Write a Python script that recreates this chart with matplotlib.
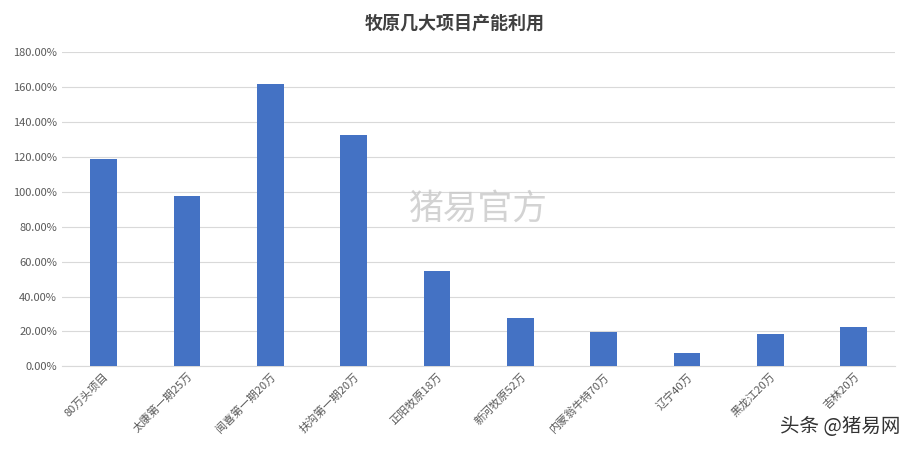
import matplotlib.pyplot as plt
from matplotlib.ticker import FuncFormatter

plt.rcParams['font.family'] = ['Noto Sans CJK SC', 'DejaVu Sans']

projects = ['80万头项目', '太康第一期25万', '闻喜第一期20万', '扶沟第一期20万', '正阳牧原18万',
            '新河牧原52万', '内蒙翁牛特70万', '辽宁40万', '黑龙江20万', '吉林20万']
utilization = [118.7, 97.5, 161.7, 132.4, 54.5, 27.5, 19.5, 7.5, 18.5, 22.5]

fig = plt.figure(figsize=(9.09, 4.54), dpi=100)
ax = fig.add_axes([0.068, 0.193, 0.917, 0.692])
x = range(len(projects))
ax.bar(x, utilization, width=0.32, color='#4472C4', zorder=3)
ax.set_xlim(-0.5, len(projects) - 0.5)
ax.set_ylim(0, 180)
ax.set_yticks(range(0, 181, 20))
ax.yaxis.set_major_formatter(FuncFormatter(lambda v, p: f'{v:.2f}%'))
ax.grid(axis='y', color='#D9D9D9', lw=0.8, zorder=0)
for s in ['top', 'right', 'left']:
    ax.spines[s].set_visible(False)
ax.spines['bottom'].set_color('#D9D9D9')
ax.tick_params(length=0, labelsize=8, colors='#595959')
ax.set_xticks(list(x))
ax.set_xticklabels(projects, rotation=45, ha='right', rotation_mode='anchor')

fig.text(0.5, 0.95, '牧原几大项目产能利用', ha='center', va='center', fontsize=13,
         color='#404040', fontweight='bold')
fig.text(0.45, 0.54, '猪易官方', ha='left', va='center', fontsize=25, color='#c8c8c8', alpha=0.8)
fig.text(0.99, 0.06, '头条 @猪易网', ha='right', va='center', fontsize=14, color='#333333')

fig.savefig('out.png', dpi=100, facecolor='white')
